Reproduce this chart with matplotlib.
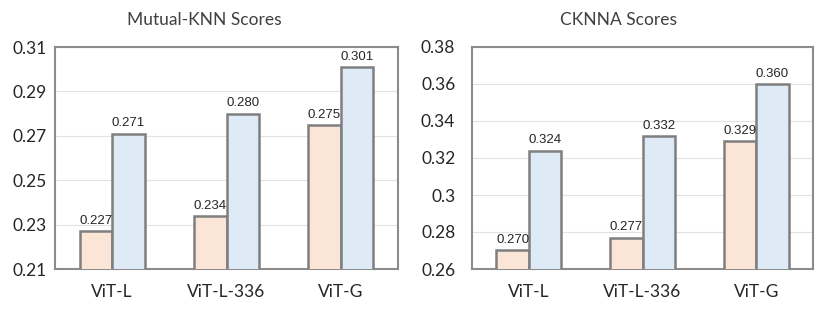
import numpy as np
import matplotlib.pyplot as plt

models = ["ViT-L", "ViT-L-336", "ViT-G"]
knn_a = [0.227, 0.234, 0.275]
knn_b = [0.271, 0.280, 0.301]
cknna_a = [0.270, 0.277, 0.329]
cknna_b = [0.324, 0.332, 0.360]

knn_ticks = [0.21, 0.23, 0.25, 0.27, 0.29, 0.31]
cknna_ticks = [0.26, 0.28, 0.30, 0.32, 0.34, 0.36, 0.38]

fig = plt.figure(figsize=(8.22, 3.09), dpi=100)
W, H = 822, 309
ax1 = fig.add_axes([55 / W, 1 - 269 / H, 343 / W, 222 / H])
ax2 = fig.add_axes([472 / W, 1 - 269 / H, 341 / W, 222 / H])

orange = "#FBE5D6"
blue = "#DEEBF7"
edge = "#7F7F7F"
bw = 0.285

def panel(ax, a, b, ticks, title, ypad, title_x):
    x = np.arange(len(models))
    ax.bar(x - bw / 2, a, bw, color=orange, edgecolor=edge, linewidth=1.8, zorder=3)
    ax.bar(x + bw / 2, b, bw, color=blue, edgecolor=edge, linewidth=1.8, zorder=3)
    for xi, v in list(zip(x - bw / 2, a)) + list(zip(x + bw / 2, b)):
        ax.annotate(f"{v:.3f}", (xi, v), xytext=(0, 3), textcoords="offset points",
                    ha="center", va="bottom", fontsize=9.5, family="Liberation Sans", color="#262626")
    ax.set_xlim(-0.5, 2.5)
    ax.set_ylim(ticks[0], ticks[-1])
    ax.set_yticks(ticks)
    ax.set_yticklabels([f"{t:g}" for t in ticks])
    ax.set_xticks(x)
    ax.set_xticklabels(models)
    ax.tick_params(length=0, labelsize=12.5, labelcolor="#262626")
    ax.tick_params(axis="x", pad=11)
    ax.tick_params(axis="y", pad=ypad)
    for lbl in ax.get_xticklabels() + ax.get_yticklabels():
        lbl.set_family("Lato")
    ax.grid(axis="y", color="#E3E3E3", linewidth=0.8, zorder=0)
    for s in ax.spines.values():
        s.set_color("#8C8C8C")
        s.set_linewidth(1.5)
    fig.text(title_x / W, 1 - 20 / H, title, fontsize=12.5, family="Lato",
             color="#404040", ha="center", va="center")

panel(ax1, knn_a, knn_b, knn_ticks, "Mutual-KNN Scores", 6, 204)
panel(ax2, cknna_a, cknna_b, cknna_ticks, "CKNNA Scores", 12, 618)

fig.savefig("out.png", dpi=100)
